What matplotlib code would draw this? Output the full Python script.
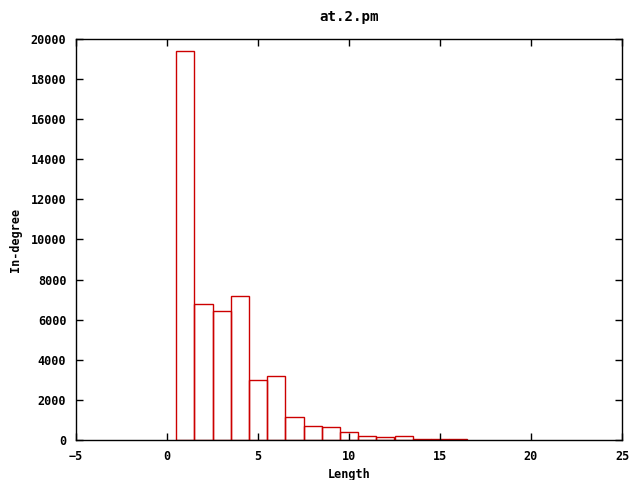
import matplotlib
matplotlib.use("Agg")
import matplotlib.pyplot as plt
import numpy as np

lengths = [1, 2, 3, 4, 5, 6, 7, 8, 9, 10, 11, 12, 13, 14, 15, 16]
counts = [19400, 6760, 6420, 7160, 2980, 3180, 1150, 690, 650, 390, 190, 140, 190, 45, 45, 40]
xticks = [-5, 0, 5, 10, 15, 20, 25]
yticks = list(range(0, 20001, 2000))

plt.rcParams['font.family'] = ['DejaVu Sans Mono']
plt.rcParams['font.weight'] = 'bold'
plt.rcParams['font.size'] = 8.5

fig = plt.figure(figsize=(6.4, 4.8), dpi=100)
ax = fig.add_axes([76/640, 40/480, (622-76)/640, (440-39)/480])
ax.bar(lengths, counts, width=1.0, facecolor='none', edgecolor='#cc0000', linewidth=1.0)
ax.set_xlim(-5, 25)
ax.set_ylim(0, 20000)
ax.set_xticks(xticks)
ax.set_yticks(yticks)
ax.tick_params(direction='in', top=True, right=True, length=5, width=1, pad=7)
for s in ax.spines.values():
    s.set_linewidth(1)
ax.set_xlabel('Length', fontweight='bold', labelpad=4)
ax.set_ylabel('In-degree', fontweight='bold', labelpad=6)
ax.set_title('at.2.pm', fontweight='bold', pad=13)
fig.savefig('out.png', dpi=100)
